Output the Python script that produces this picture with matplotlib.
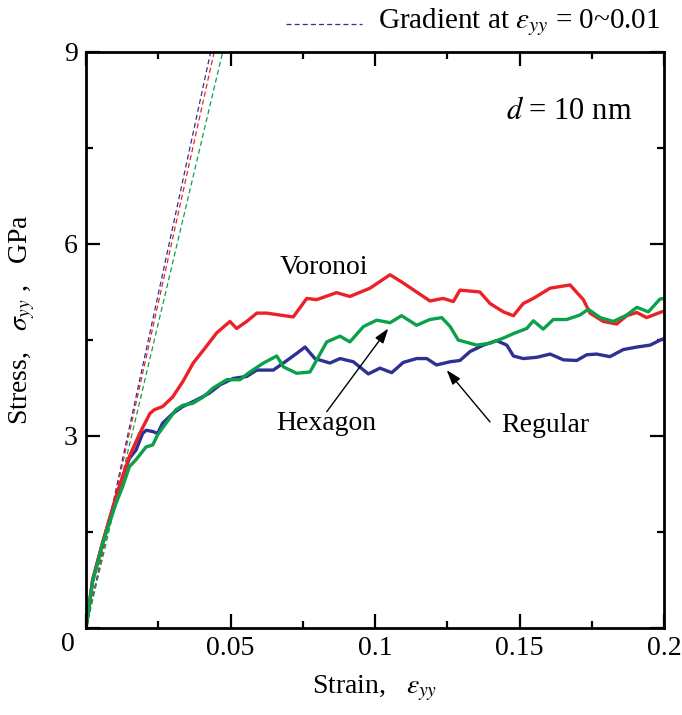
"""Stress-strain curves for d = 10 nm (Voronoi / Hexagon / Regular)."""

import matplotlib
matplotlib.use("Agg")
import matplotlib.pyplot as plt
from matplotlib.lines import Line2D
from matplotlib.ticker import MultipleLocator, FixedLocator

plt.rcParams["font.family"] = ["Liberation Serif", "DejaVu Serif"]
plt.rcParams["mathtext.fontset"] = "stix"

RED = "#EC2127"
GREEN = "#0BA04A"
BLUE = "#2E3192"

# Voronoi
vor_strain = [0, 0.0023, 0.0058, 0.0104, 0.0150, 0.0187, 0.0221, 0.0236, 0.0265, 0.0300,
              0.0335, 0.0371, 0.0406, 0.0452, 0.0498, 0.0521, 0.0556, 0.0591, 0.0625, 0.0671,
              0.0717, 0.0764, 0.0798, 0.0867, 0.0913, 0.0983, 0.1052, 0.1098, 0.1144, 0.1190,
              0.1236, 0.1271, 0.1294, 0.1363, 0.1398, 0.1444, 0.1479, 0.1513, 0.1548, 0.1606,
              0.1675, 0.1721, 0.1744, 0.1790, 0.1836, 0.1871, 0.1906, 0.1940, 0.1992, 0.2000]
vor_stress = [0, 0.75, 1.34, 2.05, 2.68, 3.05, 3.35, 3.41, 3.46, 3.61,
              3.85, 4.14, 4.34, 4.61, 4.79, 4.68, 4.79, 4.92, 4.92, 4.89,
              4.86, 5.15, 5.13, 5.24, 5.18, 5.31, 5.52, 5.39, 5.25, 5.11,
              5.15, 5.10, 5.28, 5.25, 5.07, 4.94, 4.88, 5.07, 5.15, 5.31,
              5.36, 5.13, 4.92, 4.79, 4.75, 4.88, 4.93, 4.85, 4.94, 4.95]

# Hexagon
hex_strain = [0, 0.0023, 0.0058, 0.0104, 0.0127, 0.0150, 0.0173, 0.0208, 0.0231, 0.0248,
              0.0277, 0.0311, 0.0335, 0.0369, 0.0406, 0.0440, 0.0487, 0.0533, 0.0567, 0.0614,
              0.0660, 0.0683, 0.0729, 0.0775, 0.0833, 0.0879, 0.0913, 0.0960, 0.1006, 0.1052,
              0.1092, 0.1144, 0.1190, 0.1231, 0.1260, 0.1288, 0.1352, 0.1398, 0.1444, 0.1479,
              0.1525, 0.1548, 0.1582, 0.1617, 0.1663, 0.1709, 0.1738, 0.1779, 0.1825, 0.1871,
              0.1906, 0.1946, 0.1986, 0.2000]
hex_stress = [0, 0.72, 1.32, 1.95, 2.21, 2.52, 2.63, 2.83, 2.86, 3.02,
              3.20, 3.41, 3.48, 3.51, 3.61, 3.75, 3.88, 3.88, 4.00, 4.14,
              4.25, 4.08, 3.98, 4.00, 4.47, 4.56, 4.47, 4.71, 4.81, 4.77,
              4.88, 4.73, 4.82, 4.85, 4.71, 4.50, 4.42, 4.45, 4.53, 4.60,
              4.68, 4.80, 4.67, 4.82, 4.82, 4.89, 4.98, 4.85, 4.79, 4.89,
              5.01, 4.94, 5.14, 5.15]

# Regular
reg_strain = [0, 0.0023, 0.0058, 0.0104, 0.0127, 0.0150, 0.0173, 0.0196, 0.0208, 0.0231,
              0.0248, 0.0265, 0.0300, 0.0335, 0.0381, 0.0427, 0.0464, 0.0510, 0.0556, 0.0591,
              0.0648, 0.0683, 0.0729, 0.0758, 0.0792, 0.0844, 0.0879, 0.0925, 0.0977, 0.1017,
              0.1058, 0.1098, 0.1144, 0.1179, 0.1213, 0.1260, 0.1294, 0.1329, 0.1375, 0.1421,
              0.1456, 0.1479, 0.1513, 0.1560, 0.1606, 0.1652, 0.1698, 0.1733, 0.1767, 0.1813,
              0.1859, 0.1906, 0.1952, 0.1992, 0.2000]
reg_stress = [0, 0.75, 1.34, 2.05, 2.36, 2.65, 2.78, 3.04, 3.09, 3.07,
              3.04, 3.20, 3.35, 3.46, 3.56, 3.67, 3.80, 3.90, 3.93, 4.03,
              4.03, 4.14, 4.29, 4.39, 4.21, 4.14, 4.21, 4.16, 3.97, 4.06,
              3.99, 4.15, 4.21, 4.21, 4.11, 4.16, 4.18, 4.32, 4.42, 4.49,
              4.42, 4.25, 4.21, 4.23, 4.28, 4.19, 4.18, 4.27, 4.28, 4.24,
              4.35, 4.39, 4.42, 4.51, 4.52]

# initial gradients (GPa), eps_yy = 0~0.01
grad_names = ["Regular", "Voronoi", "Hexagon"]
grad_slopes = [208.7, 203.0, 190.3]
grad_colors = [BLUE, RED, GREEN]

fig = plt.figure(figsize=(6.82, 7.15), dpi=100)
ax = fig.add_axes([86 / 682, 1 - 628 / 715, 578 / 682, 576 / 715])

for slope, color in zip(grad_slopes, grad_colors):
    ax.plot([0, 9.5 / slope], [0, 9.5], color=color, lw=0.9, dashes=(4, 2.5))

ax.plot(reg_strain, reg_stress, color=BLUE, lw=2.4, solid_joinstyle="round")
ax.plot(vor_strain, vor_stress, color=RED, lw=2.4, solid_joinstyle="round")
ax.plot(hex_strain, hex_stress, color=GREEN, lw=2.4, solid_joinstyle="round")

ax.set_xlim(0, 0.2)
ax.set_ylim(0, 9)
ax.xaxis.set_major_locator(FixedLocator([0, 0.05, 0.1, 0.15, 0.2]))
ax.xaxis.set_minor_locator(MultipleLocator(0.025))
ax.yaxis.set_major_locator(FixedLocator([0, 3, 6, 9]))
ax.yaxis.set_minor_locator(MultipleLocator(1.5))
ax.set_xticklabels(["", "0.05", "0.1", "0.15", "0.2"])
ax.set_yticklabels(["", "3", "6", "9"])
ax.tick_params(which="both", direction="in", top=True, right=True, width=1.6,
               labelsize=20, pad=6)
ax.tick_params(which="major", length=10)
ax.tick_params(which="minor", length=5)
for sp in ax.spines.values():
    sp.set_linewidth(2.0)
ax.text(-0.031, -0.028, "0", transform=ax.transAxes, fontsize=20, ha="center", va="center")

ax.set_xlabel(r"Strain,   $\varepsilon_{yy}$", fontsize=20)
ax.set_ylabel(r"Stress,   $\sigma_{yy}$ ,   GPa", fontsize=20)
ax.xaxis.set_label_coords(0.5, -0.080)
ax.yaxis.set_label_coords(-0.085, 0.535)

ax.text(0.9446, 0.896, r"$d$ = 10 nm", transform=ax.transAxes, fontsize=22,
        ha="right", va="center")

ax.text(0.0824, 5.63, "Voronoi", fontsize=20, ha="center", va="center")
ax.text(0.0830, 3.20, "Hexagon", fontsize=20, ha="center", va="center")
ax.text(0.1588, 3.17, "Regular", fontsize=20, ha="center", va="center")
arrow = dict(arrowstyle="-|>,head_length=0.9,head_width=0.3", color="black", lw=1.0,
             shrinkA=0, shrinkB=0)
ax.annotate("", xy=(0.1046, 4.68), xytext=(0.0833, 3.38), arrowprops=arrow)
ax.annotate("", xy=(0.1248, 4.03), xytext=(0.1398, 3.22), arrowprops=arrow)

# legend above the frame
fig.add_artist(Line2D([286 / 682, 362 / 682], [1 - 24 / 715] * 2, color=BLUE, lw=0.9,
                      dashes=(4, 2.5)))
fig.text(378 / 682, 1 - 22 / 715, r"Gradient at $\varepsilon_{yy}$ = 0~0.01", fontsize=21,
         ha="left", va="center")

fig.savefig("out.png", dpi=100)
